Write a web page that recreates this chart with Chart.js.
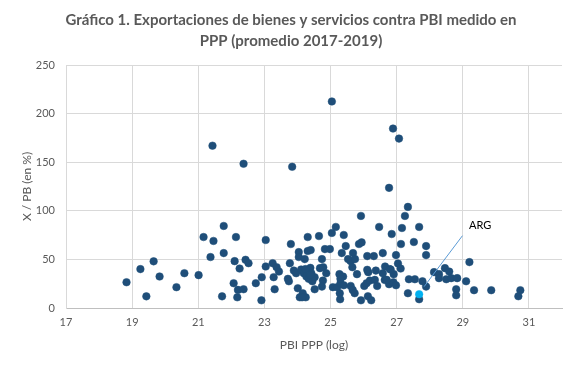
<!DOCTYPE html>
<html lang="es">
  <head>
    <meta charset="UTF-8" />
    <title>Gráfico 1</title>
    <style>
      html, body { margin: 0; padding: 0; background: #fff; }
      #wrap { width: 582px; height: 367px; }
    </style>
    <script src="https://cdn.jsdelivr.net/npm/chart.js"></script>
  </head>
  <body>
    <div id="wrap"><canvas id="myChart" width="582" height="367"></canvas></div>
    <script>
      // PBI PPP (log) de cada país
      const pbiLog = [
        18.83, 19.25, 19.43, 19.65, 19.83, 20.34, 20.58, 21.01, 21.16, 21.43,
        21.46, 21.37, 21.77, 21.77, 21.72, 22.14, 22.1, 22.25, 22.07, 22.2,
        22.18, 22.37, 22.43, 22.52, 22.37, 22.74, 22.92, 22.91, 23.04, 23.04,
        23.25, 23.37, 23.44, 23.28, 23.31, 23.84, 23.8, 23.77, 23.71, 23.74,
        23.89, 23.96, 24.04, 24.04, 24.01, 24.07, 24.22, 24.31, 24.31, 24.4,
        24.11, 24.19, 24.27, 24.39, 24.42, 24.34, 24.45, 24.52, 24.52, 24.25,
        24.16, 24.14, 24.65, 24.74, 24.68, 24.78, 24.87, 24.77, 24.74, 24.83,
        24.98, 25.04, 25.04, 25.16, 25.4, 25.46, 25.34, 25.07, 25.2, 25.27,
        25.38, 25.3, 25.28, 25.29, 25.4, 25.53, 25.61, 25.66, 25.68, 25.74,
        25.8, 25.61, 25.67, 25.73, 25.86, 25.92, 25.94, 25.92, 26.11, 26.31,
        26.14, 26.02, 26.09, 26.19, 26.13, 26.23, 26.37, 26.34, 26.41, 26.47,
        26.89, 27.07, 26.77, 27.34, 27.25, 26.85, 27.16, 27.68, 27.13, 27.52,
        27.89, 27.89, 26.58, 26.98, 26.65, 26.79, 26.58, 26.91, 27.04, 27.12,
        26.64, 26.77, 26.9, 26.98, 27.37, 27.55, 27.34, 27.78, 27.89, 27.68,
        28.13, 28.28, 28.28, 28.46, 28.59, 28.5, 28.65, 28.83, 28.8, 28.8,
        29.1, 29.2, 29.34, 29.86, 30.74, 30.68, 24.24, 24.39, 25.3, 26.11,
        26.7, 26.82
      ];
      // Exportaciones / PBI (en %)
      const expPbi = [
        26.5, 40, 12, 48, 32.4, 21.4, 35.8, 33.8, 73, 167,
        69, 52.4, 84.4, 56.5, 12, 73, 48.2, 40.6, 25.5, 18.6,
        11, 148.4, 49.6, 46.1, 19.3, 25.5, 31.7, 7.9, 69.9, 42.7,
        46.1, 42, 37.5, 31.7, 19.3, 145.3, 65.8, 46.1, 30, 27.5,
        38.5, 35.8, 57.5, 52.4, 20.3, 11, 50.3, 73, 58.6, 59.6,
        39.6, 35.8, 32.4, 41.3, 35.8, 30, 27.5, 31.7, 19.3, 11,
        15.2, 11, 74, 50.3, 41, 42, 35.8, 28.2, 22, 60.6,
        60.6, 212.5, 77.2, 83.4, 75.1, 63.7, 56.5, 21.4, 21.4, 34.8,
        32.4, 25.5, 15.2, 9, 23.4, 50.3, 48.2, 42, 56.5, 50.3,
        34.8, 22.7, 18.6, 15.2, 65.8, 94.7, 67.5, 7.9, 53.4, 53.4,
        36.9, 22.7, 25.5, 28.2, 12.1, 7.9, 38.5, 28.9, 22.7, 83.4,
        184.6, 174.3, 123.6, 104, 94.7, 76.1, 82.3, 83.4, 65.8, 67.9,
        63.7, 54.4, 56.5, 54.4, 42.7, 40, 35.8, 34.8, 45.8, 40.6,
        28.9, 24.5, 26.5, 23.4, 29.6, 29.6, 15.2, 27.5, 22, 9,
        36.9, 34.8, 30.7, 41, 37.5, 29.6, 30.7, 30.7, 19.3, 13.1,
        27.5, 47.2, 18.3, 18.3, 18.3, 12.1, 40, 34, 30, 39.3,
        29, 39.5
      ];
      // Argentina
      const argPoint = [27.68, 14.2];
      const argLabel = "ARG";
      const argLineFrom = [27.83, 22];
      const argLineTo = [28.99, 74.4];
      const argTextAt = [29.19, 84.7];

      const xTicks = [17, 19, 21, 23, 25, 27, 29, 31];
      const yTicks = [0, 50, 100, 150, 200, 250];

      const gray = "#595959";
      const gridColor = "#d9d9d9";
      const fontName = "Lato, 'Open Sans', sans-serif";

      const argLabelPlugin = {
        id: "argLabel",
        afterDatasetsDraw(chart) {
          const {ctx, scales: {x, y}} = chart;
          ctx.save();
          ctx.strokeStyle = "#5b9bd5";
          ctx.lineWidth = 1;
          ctx.beginPath();
          ctx.moveTo(x.getPixelForValue(argLineFrom[0]), y.getPixelForValue(argLineFrom[1]));
          ctx.lineTo(x.getPixelForValue(argLineTo[0]), y.getPixelForValue(argLineTo[1]));
          ctx.stroke();
          ctx.fillStyle = "#000";
          ctx.font = "11px " + fontName;
          ctx.textBaseline = "middle";
          ctx.fillText(argLabel, x.getPixelForValue(argTextAt[0]), y.getPixelForValue(argTextAt[1]));
          ctx.restore();
        },
      };

      const ctx = document.getElementById("myChart");
      new Chart(ctx, {
        type: "scatter",
        data: {
          datasets: [
            {
              label: "ARG",
              data: [{x: argPoint[0], y: argPoint[1]}],
              backgroundColor: "#00b0f0",
              borderColor: "#00b0f0",
              pointRadius: 3.8,
              borderWidth: 0.5,
            },
            {
              label: "Países",
              data: pbiLog.map((v, i) => ({x: v, y: expPbi[i]})),
              backgroundColor: "#1f4e79",
              borderColor: "#1f4e79",
              pointRadius: 3.8,
              borderWidth: 0.5,
            },
          ],
        },
        options: {
          responsive: false,
          animation: false,
          layout: {padding: {left: 20, right: 20, top: 0, bottom: 15}},
          plugins: {
            legend: {display: false},
            tooltip: {enabled: false},
            title: {
              display: true,
              text: [
                "Gráfico 1. Exportaciones de bienes y servicios contra PBI medido en",
                "PPP (promedio 2017-2019)",
              ],
              color: gray,
              font: {family: fontName, size: 15, weight: "bold", lineHeight: 1.4},
              padding: {top: 10, bottom: 13},
            },
          },
          scales: {
            x: {
              type: "linear",
              min: 17,
              max: 32,
              afterBuildTicks: (scale) => {
                scale.ticks = xTicks.map((v) => ({value: v}));
              },
              afterFit: (scale) => {
                scale.height = 44;
              },
              grid: {color: gridColor, drawTicks: false},
              border: {color: "#bfbfbf"},
              ticks: {color: gray, font: {family: fontName, size: 11}, padding: 8},
              title: {
                display: true,
                text: "PBI PPP (log)",
                color: gray,
                font: {family: fontName, size: 12},
                padding: {top: 6, bottom: 0},
              },
            },
            y: {
              min: 0,
              max: 250,
              afterBuildTicks: (scale) => {
                scale.ticks = yTicks.map((v) => ({value: v}));
              },
              afterFit: (scale) => {
                scale.width = 46;
              },
              grid: {color: gridColor, drawTicks: false},
              border: {color: gridColor},
              ticks: {color: gray, font: {family: fontName, size: 11}, padding: 11},
              title: {
                display: true,
                text: "X / PB (en %)",
                color: gray,
                font: {family: fontName, size: 12},
                padding: {top: 0, bottom: 0},
              },
            },
          },
        },
        plugins: [argLabelPlugin],
      });
    </script>
  </body>
</html>
